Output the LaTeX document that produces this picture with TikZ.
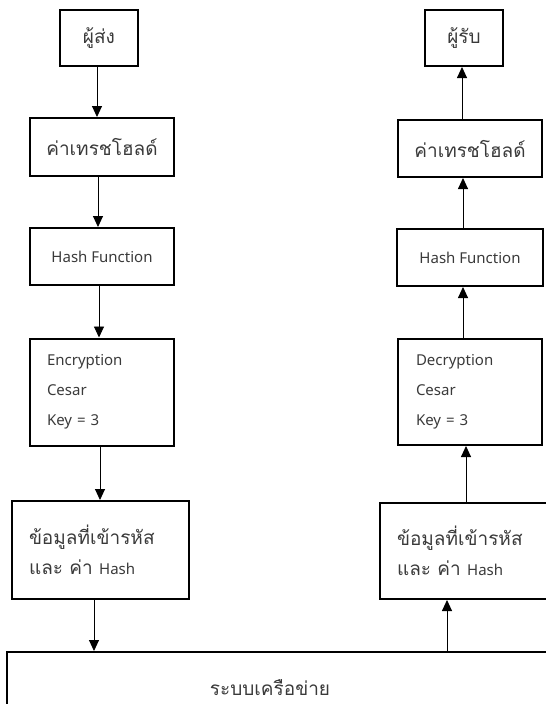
\documentclass[tikz,border=0pt]{standalone}
\usepackage{fontspec}
\newfontfamily\thai[Script=Thai]{Loma}
\newfontfamily\lat{Noto Sans}
\usetikzlibrary{arrows.meta}
\definecolor{txt}{HTML}{3A3A3A}
\tikzset{
  box/.style={draw=black, line width=2pt, inner sep=0pt, text=txt},
  thaitxt/.style={font=\thai\fontsize{19}{30}\selectfont},
  lattxt/.style={font=\lat\fontsize{15}{30}\selectfont},
  arr/.style={line width=0.9pt, -{Triangle[length=11pt,width=10pt]}}
}
\begin{document}
\begin{tikzpicture}[x=1pt,y=-1pt]
\useasboundingbox (0,0) rectangle (546,704);
% left column
\node[box, thaitxt, minimum width=78pt, minimum height=56pt] (s1) at (99,38) {ผู้ส่ง};
\node[box, thaitxt, minimum width=144pt, minimum height=58pt] (s2) at (102,147) {ค่าเทรชโฮลด์};
\node[box, lattxt, minimum width=144pt, minimum height=57pt] (s3) at (102,256.5) {Hash Function};
\node[box, lattxt, minimum width=144pt, minimum height=107pt, text width=110pt, align=left] (s4) at (102,392) {Encryption\\Cesar\\Key = 3};
\node[box, thaitxt, minimum width=177pt, minimum height=98pt, text width=143pt, align=left] (s5) at (100.5,550) {ข้อมูลที่เข้ารหัส\\และ ค่า {\lat\fontsize{15}{30}\selectfont Hash}};
% network
\node[box, minimum width=563pt, minimum height=52.5pt] (net) at (288.5,678.25) {};
\node[thaitxt, text=txt, inner sep=0pt] (netlbl) at (270,688) {ระบบเครือข่าย};
% right column
\node[box, thaitxt, minimum width=78pt, minimum height=56pt] (r1) at (464,38) {ผู้รับ};
\node[box, thaitxt, minimum width=144pt, minimum height=57pt] (r2) at (470,148.5) {ค่าเทรชโฮลด์};
\node[box, lattxt, minimum width=146pt, minimum height=57pt] (r3) at (470,257.5) {Hash Function};
\node[box, lattxt, minimum width=144pt, minimum height=106pt, text width=108pt, align=left] (r4) at (470,392) {Decryption\\Cesar\\Key = 3};
\node[box, thaitxt, minimum width=180pt, minimum height=96pt, text width=146pt, align=left] (r5) at (470,551) {ข้อมูลที่เข้ารหัส\\และ ค่า {\lat\fontsize{15}{30}\selectfont Hash}};
% arrows left (down)
\draw[arr] ([xshift=-2pt]s1.south) -- ([xshift=-2pt]s1.south |- s2.north);
\draw[arr] ([xshift=-4pt]s2.south) -- ([xshift=-4pt]s2.south |- s3.north);
\draw[arr] ([xshift=-3pt]s3.south) -- ([xshift=-3pt]s3.south |- s4.north);
\draw[arr] ([xshift=-2pt]s4.south) -- ([xshift=-2pt]s4.south |- s5.north);
\draw[arr] ([xshift=-6.5pt]s5.south) -- ([xshift=-6.5pt]s5.south |- net.north);
% arrows right (up)
\draw[arr] ([xshift=-23pt]r5.south |- net.north) -- ([xshift=-23pt]r5.south);
\draw[arr] ([xshift=-4pt]r5.north) -- ([xshift=-4pt]r5.north |- r4.south);
\draw[arr] ([xshift=-7pt]r4.north) -- ([xshift=-7pt]r4.north |- r3.south);
\draw[arr] ([xshift=-7pt]r3.north) -- ([xshift=-7pt]r3.north |- r2.south);
\draw[arr] ([xshift=-8pt]r2.north) -- ([xshift=-8pt]r2.north |- r1.south);
\end{tikzpicture}
\end{document}
